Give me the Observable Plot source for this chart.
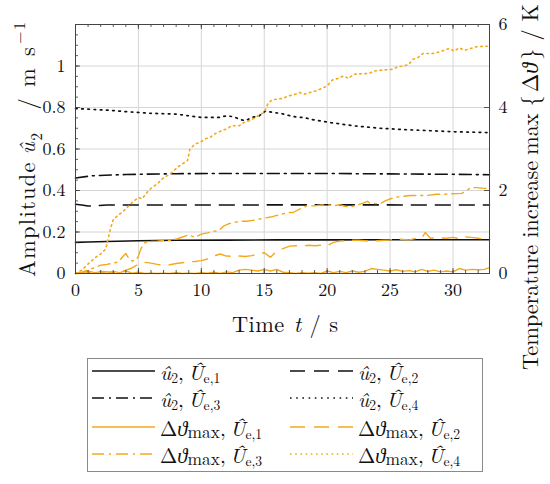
<!DOCTYPE html>
<html><head><meta charset="utf-8">
<script src="https://cdn.jsdelivr.net/npm/d3@7"></script>
<script src="https://cdn.jsdelivr.net/npm/@observablehq/plot@0.6"></script>
<style>
body{margin:0;background:#fff;}
#wrap{width:550px;height:484px;position:relative;overflow:hidden;}
#legend{position:absolute;left:87px;top:358px;width:396px;height:114px;box-sizing:border-box;border:1.5px solid #8a8a8a;background:#fff;}
.entry{position:absolute;height:22px;display:flex;align-items:center;color:#111;white-space:nowrap;word-spacing:-0.12em;}
.entry svg{margin-right:5px;flex:none}
.entry sub{font-size:66%;vertical-align:-0.22em;line-height:0}
.entry sub.mx{font-size:84%;vertical-align:-0.1em}
</style></head><body><div id="wrap"><div id="plot"></div><div id="legend"></div></div>
<script>
// ---------- data ----------
// amplitude u2 (m/s), left axis
const u1T = [0, 1, 2.5, 5, 8, 12, 16, 20, 25, 30, 32.9];
const u1V = [0.150, 0.152, 0.154, 0.158, 0.160, 0.161, 0.162, 0.162, 0.163, 0.163, 0.163];
const u2T = [0, 0.5, 1, 1.5, 2.5, 5, 10, 20, 30, 32.9];
const u2V = [0.334, 0.330, 0.325, 0.326, 0.330, 0.330, 0.330, 0.331, 0.330, 0.330];
const u3T = [0, 1.3, 4, 8, 12, 20, 25, 30, 32.9];
const u3V = [0.460, 0.471, 0.477, 0.481, 0.482, 0.482, 0.480, 0.478, 0.476];
const u4T = [0, 2.6, 4, 6, 8, 9, 10, 11.4, 12, 12.6, 13, 13.5, 14, 14.6, 15.1, 15.7, 16.3, 17.3, 18.2, 18.8, 20.3, 22.2, 24.2, 26.2, 28.2, 30.2, 32.9];
const u4V = [0.795, 0.787, 0.780, 0.772, 0.768, 0.760, 0.752, 0.752, 0.760, 0.755, 0.744, 0.736, 0.752, 0.760, 0.783, 0.776, 0.772, 0.756, 0.751, 0.742, 0.727, 0.711, 0.700, 0.693, 0.688, 0.683, 0.679];

// temperature increase (K), right axis
const d1T = [0,0.5,1,1.5,2,2.5,3,3.5,4,4.5,5,5.5,6,6.5,7,7.5,8,8.5,9,9.5,10,10.5,11,11.5,12,12.5,13,13.5,14,14.5,15,15.5,16,16.5,17,17.5,18,18.5,19,19.5,20,20.5,21,21.5,22,22.5,23,23.5,24,24.5,25,25.5,26,26.5,27,27.5,28,28.5,29,29.5,30,30.5,31,31.5,32,32.5,32.9];
const d1V = [0,0.02,0.06,0.02,0.04,0.0,0.05,0.02,0.06,0.01,0.03,0.0,0.01,0.0,0.01,0.0,0.02,0.0,0.01,0.0,0.02,0.01,0.03,0.0,0.04,0.02,0.08,0.1,0.08,0.06,0.1,0.06,0.1,0.03,0.02,0.0,0.02,0.01,0.02,0.0,0.06,0.02,0.05,0.02,0.06,0.03,0.05,0.12,0.1,0.08,0.06,0.09,0.05,0.07,0.04,0.1,0.05,0.08,0.04,0.06,0.04,0.12,0.08,0.1,0.09,0.1,0.14];
const d2T = [0,1,2,3,3.5,4,4.4,4.8,5.2,5.5,6,6.5,7,7.5,8,8.5,9,9.5,10,10.5,11,11.5,12,12.5,13,13.5,14,14.5,15,15.5,16,16.5,17,17.5,18,18.5,19,19.5,20,20.5,21,21.5,22,22.5,23,23.5,24,24.5,25,25.5,26,26.5,27,27.5,27.8,28.2,28.5,29,29.5,30,30.5,31,31.5,32,32.5,32.9];
const d2V = [0,0.02,0.05,0.03,0.02,0.08,0.12,0.19,0.25,0.27,0.25,0.22,0.2,0.21,0.24,0.26,0.28,0.29,0.31,0.35,0.42,0.47,0.42,0.41,0.42,0.41,0.43,0.47,0.5,0.39,0.55,0.6,0.66,0.67,0.66,0.68,0.67,0.68,0.67,0.75,0.78,0.79,0.8,0.8,0.79,0.78,0.79,0.8,0.81,0.83,0.82,0.81,0.84,0.85,0.99,0.85,0.86,0.86,0.85,0.87,0.84,0.88,0.87,0.85,0.83,0.86];
const d3T = [0,0.5,1,1.5,2,2.5,3,3.4,3.8,4,4.2,4.5,4.8,5,5.2,5.5,6,6.5,7,7.5,8,8.5,9,9.5,10,10.5,11,11.4,11.8,12.2,12.6,13.1,13.6,14.3,14.9,15.5,16,16.4,16.9,17.3,17.8,18.4,19,19.5,20.2,20.5,21,21.4,21.8,22.4,22.9,23.2,23.4,24.2,24.6,25.4,25.8,26.6,27.4,27.9,28.7,29.3,29.8,30.7,31.1,31.4,31.9,32.5,32.9];
const d3V = [0,0.03,0.08,0.14,0.2,0.22,0.25,0.28,0.42,0.48,0.38,0.3,0.32,0.42,0.6,0.74,0.77,0.78,0.8,0.8,0.83,0.88,0.93,0.87,0.95,0.98,1.02,1.03,1.15,1.2,1.23,1.26,1.26,1.29,1.33,1.36,1.4,1.43,1.47,1.47,1.55,1.63,1.63,1.65,1.65,1.63,1.66,1.62,1.6,1.65,1.7,1.74,1.69,1.68,1.75,1.84,1.85,1.88,1.88,1.88,1.91,1.91,1.92,1.93,2.0,2.07,2.07,2.05,2.04];
const d4T = [0,0.5,1,1.3,1.7,2,2.4,2.6,2.8,3,3.4,3.8,4.2,4.6,5,5.3,5.7,6.1,6.5,6.9,7.3,7.7,8.1,8.5,8.9,9.1,9.5,9.9,10.3,10.7,11.1,11.6,12,12.4,13,13.4,13.8,14.2,14.6,15,15.3,15.6,16,16.5,16.9,17.3,17.8,18.2,18.6,19.1,19.5,20,20.4,20.85,21.3,21.7,22.1,22.5,23.3,23.8,24.3,25.2,25.6,26.1,26.5,26.8,27.2,27.6,28.4,28.9,29.3,29.7,30.1,30.5,30.9,31.4,31.8,32.2,32.9];
const d4V = [0,0.08,0.23,0.31,0.41,0.47,0.59,0.85,1.1,1.3,1.41,1.5,1.62,1.74,1.83,1.8,1.96,2.08,2.16,2.28,2.36,2.44,2.56,2.64,2.72,3.0,3.12,3.16,3.24,3.28,3.37,3.44,3.48,3.56,3.56,3.64,3.68,3.74,3.82,3.88,4.1,4.18,4.2,4.22,4.28,4.3,4.36,4.32,4.36,4.4,4.45,4.52,4.66,4.7,4.76,4.7,4.8,4.81,4.82,4.88,4.9,4.92,4.98,5.0,5.04,5.16,5.2,5.3,5.3,5.34,5.38,5.42,5.36,5.44,5.38,5.42,5.46,5.47,5.48];

// axes / ticks
const xDomain = [0, 32.9];
const yDomain = [0, 1.2];      // m/s
const kDomain = [0, 6];        // K
const xMajor = [0, 5, 10, 15, 20, 25, 30];
const yMajor = [0, 0.2, 0.4, 0.6, 0.8, 1];
const kMajor = [0, 2, 4, 6];

// ---------- font selection (first installed serif) ----------
const serifCandidates = ["Latin Modern Roman", "CMU Serif", "Liberation Serif", "Tinos", "Times New Roman", "Nimbus Roman", "FreeSerif", "Noto Serif", "DejaVu Serif", "Georgia"];
const ctx = document.createElement("canvas").getContext("2d");
function hasFont(name) {
  const s = "mmmmmmmmmmlli WQ@#12ABC";
  return ["monospace", "sans-serif", "serif"].some(g => {
    ctx.font = `40px ${g}`; const w0 = ctx.measureText(s).width;
    ctx.font = `40px "${name}", ${g}`; return Math.abs(ctx.measureText(s).width - w0) > 0.01;
  });
}
const picked = serifCandidates.find(hasFont);
const FONT = picked ? `"${picked}", serif` : "serif";
ctx.font = `100px ${FONT}`;
const SF = 4.278 / (ctx.measureText("Amplitude").width / 100);   // size factor relative to Times metrics
const fs = v => +(v * SF).toFixed(2);

// ---------- chart ----------
const BLACK = "#111", ORANGE = "#f4a91c";
const W = 550, H = 358, ML = 75, MR = 61, MT = 24, MB = 85;
const FH = H - MT - MB, FW = W - ML - MR;
const kToY = k => k * (yDomain[1] / kDomain[1]);
const rows = (T, V, f = v => v) => T.map((t, i) => ({t, v: f(V[i])}));
const xMinor = d3.range(0, 33, 1);
const yMinor = d3.range(0, 1.2001, 0.05);

const DASH = "15,9", DASHDOT = "12,5,2,5", DOT = "1.6,4.6", ODOT = "1.6,3.6";
const TICK = fs(19.5);

const chart = Plot.plot({
  width: W, height: H,
  marginLeft: ML, marginRight: MR, marginTop: MT, marginBottom: MB,
  style: {fontFamily: FONT, fontSize: TICK + "px", color: "#111", background: "white", overflow: "visible"},
  x: {domain: xDomain},
  y: {domain: yDomain},
  marks: [
    Plot.gridX(xMajor.slice(1), {stroke: "#d6d6d6", strokeOpacity: 1}),
    Plot.gridY(yMajor.slice(1), {stroke: "#d6d6d6", strokeOpacity: 1}),
    // black amplitude lines
    Plot.line(rows(u1T, u1V), {x: "t", y: "v", stroke: BLACK, strokeWidth: 1.6}),
    Plot.line(rows(u2T, u2V), {x: "t", y: "v", stroke: BLACK, strokeWidth: 1.6, strokeDasharray: DASH}),
    Plot.line(rows(u3T, u3V), {x: "t", y: "v", stroke: BLACK, strokeWidth: 1.6, strokeDasharray: DASHDOT}),
    Plot.line(rows(u4T, u4V), {x: "t", y: "v", stroke: BLACK, strokeWidth: 1.7, strokeDasharray: DOT}),
    // orange temperature lines
    Plot.line(rows(d1T, d1V, kToY), {x: "t", y: "v", stroke: ORANGE, strokeWidth: 1.4}),
    Plot.line(rows(d2T, d2V, kToY), {x: "t", y: "v", stroke: ORANGE, strokeWidth: 1.4, strokeDasharray: DASH}),
    Plot.line(rows(d3T, d3V, kToY), {x: "t", y: "v", stroke: ORANGE, strokeWidth: 1.4, strokeDasharray: DASHDOT}),
    Plot.line(rows(d4T, d4V, kToY), {x: "t", y: "v", stroke: ORANGE, strokeWidth: 1.6, strokeDasharray: ODOT}),
    // inward ticks
    Plot.tickX(xMinor, {x: d => d, insetTop: FH - 3, stroke: "#333", strokeWidth: 0.8}),
    Plot.tickX(xMinor, {x: d => d, insetBottom: FH - 3, stroke: "#333", strokeWidth: 0.8}),
    Plot.tickX(xMajor, {x: d => d, insetTop: FH - 5, stroke: "#333", strokeWidth: 0.8}),
    Plot.tickX(xMajor, {x: d => d, insetBottom: FH - 5, stroke: "#333", strokeWidth: 0.8}),
    Plot.tickY(yMinor, {y: d => d, insetRight: FW - 3, stroke: "#333", strokeWidth: 0.8}),
    Plot.tickY(yMajor, {y: d => d, insetRight: FW - 5, stroke: "#333", strokeWidth: 0.8}),
    Plot.tickY(kMajor.map(kToY), {y: d => d, insetLeft: FW - 5, stroke: "#333", strokeWidth: 0.8}),
    Plot.frame({stroke: "#444", strokeWidth: 1}),
    Plot.axisX({ticks: xMajor, tickSize: 0, tickPadding: 10, label: null, fontSize: TICK, fontFamily: FONT, tickFormat: d => String(d)}),
    Plot.axisY({anchor: "left", ticks: yMajor, tickSize: 0, tickPadding: 10, label: null, fontSize: TICK, fontFamily: FONT, tickFormat: d => String(+d.toFixed(1))}),
    Plot.axisY({anchor: "right", ticks: kMajor.map(kToY), tickSize: 0, tickPadding: 9, label: null, fontSize: TICK, fontFamily: FONT, tickFormat: d => String(Math.round(d * kDomain[1] / yDomain[1]))})
  ]
});
document.getElementById("plot").appendChild(chart);

// ---------- axis titles with sub/superscripts ----------
const svg = d3.select(chart);
// (x, y): page point where the title begins; len: its total extent along the reading direction
function richText(x, y, rot, size, len, parts) {
  const t = svg.append("text")
    .attr("transform", `translate(${x},${y})` + (rot ? ` rotate(${rot})` : ""))
    .attr("text-anchor", "start").attr("fill", "#111")
    .attr("font-family", FONT).attr("font-size", size)
    .attr("textLength", len).attr("lengthAdjust", "spacing");
  let off = 0;
  for (const p of parts) {
    const s = (p.s || 0) * size;
    const ts = t.append("tspan").text(p.t).attr("dy", s - off).attr("font-size", size * (p.k || 1));
    if (p.dx) ts.attr("dx", p.dx);
    if (p.i) ts.attr("font-style", "italic");
    off = s;
  }
}
const xTitle = [{t: "Time"}, {t: "t", i: 1, dx: 9}, {t: "/", dx: 8}, {t: "s", dx: 8}];
const yTitle = [{t: "Amplitude"}, {t: "û", i: 1, dx: 7}, {t: "2", s: 0.3, k: 0.7}, {t: "/", dx: 22}, {t: "m", dx: 10}, {t: "s", dx: 11}, {t: "−1", s: -0.45, k: 0.72, dx: 2}];
const kTitle = [{t: "Temperature"}, {t: "increase", dx: 7}, {t: "max", dx: 6}, {t: "{", dx: 7}, {t: "Δ", dx: 3}, {t: "ϑ", i: 1}, {t: "}", dx: 3}, {t: "/", dx: 8}, {t: "K", dx: 8}];
const TITLE = fs(24.3);
richText(232, 332, 0, TITLE, 106, xTitle);
richText(35, 277, -90, TITLE, 255, yTitle);
richText(538, 370, -90, TITLE, 366, kTitle);

// ---------- legend ----------
const U = n => `<i>Û</i><sub>e,${n}</sub>`;
const legendLabels = [
  `<i>û</i><sub>2</sub>, ${U(1)}`, `<i>û</i><sub>2</sub>, ${U(2)}`,
  `<i>û</i><sub>2</sub>, ${U(3)}`, `<i>û</i><sub>2</sub>, ${U(4)}`,
  `Δ<i>ϑ</i><sub class="mx">max</sub>, ${U(1)}`, `Δ<i>ϑ</i><sub class="mx">max</sub>, ${U(2)}`,
  `Δ<i>ϑ</i><sub class="mx">max</sub>, ${U(3)}`, `Δ<i>ϑ</i><sub class="mx">max</sub>, ${U(4)}`
];
const legendColors = [BLACK, BLACK, BLACK, BLACK, ORANGE, ORANGE, ORANGE, ORANGE];
const legendDash = [null, DASH, DASHDOT, DOT, null, DASH, DASHDOT, ODOT];
const rowTops = [1, 28, 57, 84];
const leg = document.getElementById("legend");
leg.style.fontFamily = FONT;
leg.style.fontSize = fs(22.5) + "px";
legendLabels.forEach((html, i) => {
  const col = i % 2, row = Math.floor(i / 2);
  const e = document.createElement("div");
  e.className = "entry";
  e.style.left = (col ? 202 : 4) + "px";
  e.style.top = rowTops[row] + "px";
  const dash = legendDash[i] ? `stroke-dasharray="${legendDash[i]}"` : "";
  e.innerHTML = `<svg width="63" height="10"><line x1="0" x2="63" y1="5" y2="5" stroke="${legendColors[i]}" stroke-width="${i === 3 || i === 7 ? 1.6 : 1.4}" ${dash}/></svg><span>${html}</span>`;
  leg.appendChild(e);
});
</script></body></html>
